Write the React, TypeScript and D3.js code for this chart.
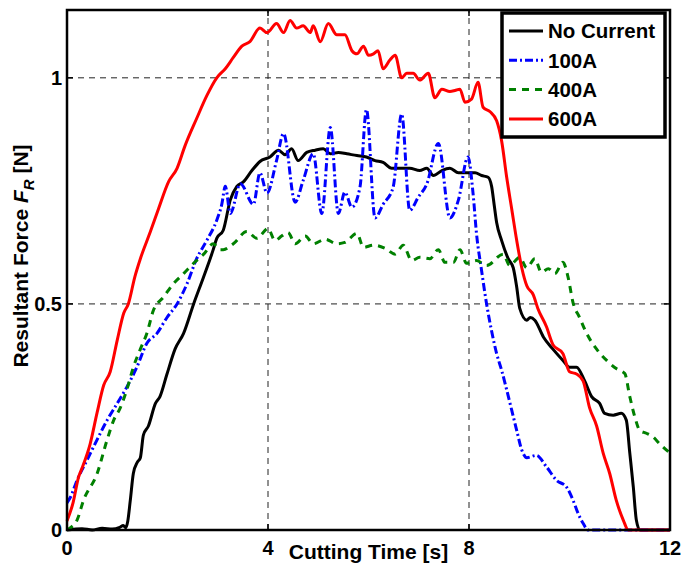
import React, { useEffect, useRef } from 'react';
import * as d3 from 'd3';

// data: [time (s), force (N)]
const noCurrent: [number, number][] = [
  [0, 0], [0.3, 0.003], [0.5, 0], [0.7, 0.004], [0.9, 0.002], [1.05, 0.006], [1.12, 0.01], [1.17, 0.005],
  [1.21, 0.02], [1.26, 0.066], [1.32, 0.125], [1.4, 0.15], [1.46, 0.16], [1.52, 0.21], [1.62, 0.23],
  [1.76, 0.28], [1.85, 0.295], [1.99, 0.345], [2.15, 0.4], [2.32, 0.435], [2.52, 0.5], [2.72, 0.56],
  [2.91, 0.62], [2.98, 0.645], [3.11, 0.663], [3.25, 0.73], [3.38, 0.76], [3.51, 0.77], [3.68, 0.795],
  [3.84, 0.815], [4.04, 0.825], [4.21, 0.84], [4.34, 0.83], [4.47, 0.843], [4.6, 0.817], [4.77, 0.835],
  [4.94, 0.84], [5.1, 0.843], [5.24, 0.832], [5.4, 0.835], [5.57, 0.832], [5.77, 0.828], [5.96, 0.825],
  [6.13, 0.817], [6.29, 0.813], [6.46, 0.8], [6.63, 0.8], [6.82, 0.8], [7.02, 0.795], [7.16, 0.8],
  [7.29, 0.784], [7.46, 0.795], [7.62, 0.8], [7.79, 0.79], [7.95, 0.79], [8.12, 0.79], [8.25, 0.784],
  [8.38, 0.78], [8.45, 0.76], [8.5, 0.72], [8.55, 0.68], [8.65, 0.64], [8.78, 0.6], [8.88, 0.58],
  [8.95, 0.537], [9.01, 0.49], [9.15, 0.464], [9.22, 0.47], [9.31, 0.464], [9.48, 0.427], [9.67, 0.4],
  [9.87, 0.375], [10.0, 0.36], [10.14, 0.36], [10.3, 0.33], [10.44, 0.295], [10.6, 0.28], [10.7, 0.258],
  [10.87, 0.254], [11.03, 0.258], [11.13, 0.243], [11.2, 0.17], [11.27, 0.095], [11.33, 0.022],
  [11.4, 0], [12, 0],
];

const amp100: [number, number][] = [
  [0, 0.06], [0.07, 0.073], [0.2, 0.11], [0.4, 0.155], [0.6, 0.2], [0.8, 0.243], [1.0, 0.28],
  [1.19, 0.316], [1.39, 0.36], [1.59, 0.413], [1.79, 0.435], [1.99, 0.47], [2.19, 0.5], [2.39, 0.545],
  [2.58, 0.6], [2.78, 0.64], [2.98, 0.685], [3.08, 0.72], [3.15, 0.76], [3.25, 0.7], [3.45, 0.766],
  [3.71, 0.72], [3.84, 0.79], [3.98, 0.745], [4.17, 0.817], [4.31, 0.877], [4.54, 0.725], [4.7, 0.773],
  [4.9, 0.832], [5.07, 0.7], [5.24, 0.89], [5.4, 0.7], [5.53, 0.747], [5.67, 0.714], [5.83, 0.758],
  [5.96, 0.93], [6.13, 0.69], [6.29, 0.72], [6.49, 0.758], [6.66, 0.92], [6.82, 0.707], [6.99, 0.736],
  [7.16, 0.765], [7.39, 0.855], [7.62, 0.69], [7.79, 0.73], [7.98, 0.825], [8.08, 0.745], [8.15, 0.655],
  [8.25, 0.574], [8.35, 0.5], [8.45, 0.44], [8.55, 0.39], [8.65, 0.353], [8.75, 0.31], [8.85, 0.265],
  [8.95, 0.22], [9.05, 0.177], [9.15, 0.16], [9.34, 0.165], [9.54, 0.14], [9.74, 0.11], [9.94, 0.095],
  [10.07, 0.066], [10.17, 0.037], [10.27, 0.015], [10.37, 0], [12, 0],
];

const amp400: [number, number][] = [
  [0, 0], [0.07, 0.005], [0.2, 0.022], [0.33, 0.066], [0.6, 0.125], [0.8, 0.2], [0.93, 0.243],
  [1.06, 0.27], [1.19, 0.31], [1.32, 0.36], [1.46, 0.4], [1.59, 0.435], [1.72, 0.486], [1.92, 0.515],
  [2.12, 0.545], [2.32, 0.567], [2.52, 0.59], [2.72, 0.61], [2.91, 0.633], [3.05, 0.62], [3.11, 0.62],
  [3.31, 0.633], [3.58, 0.66], [3.78, 0.645], [4.0, 0.667], [4.14, 0.64], [4.27, 0.65], [4.4, 0.658],
  [4.54, 0.633], [4.74, 0.65], [4.9, 0.633], [5.14, 0.643], [5.37, 0.633], [5.53, 0.636], [5.77, 0.656],
  [5.9, 0.625], [6.1, 0.63], [6.33, 0.623], [6.53, 0.61], [6.69, 0.63], [6.86, 0.596], [7.02, 0.603],
  [7.22, 0.6], [7.39, 0.62], [7.52, 0.592], [7.69, 0.592], [7.82, 0.62], [7.95, 0.59], [8.15, 0.596],
  [8.35, 0.585], [8.68, 0.61], [8.81, 0.585], [9.01, 0.603], [9.15, 0.58], [9.31, 0.6], [9.44, 0.57],
  [9.58, 0.578], [9.71, 0.567], [9.87, 0.592], [9.97, 0.56], [10.07, 0.503], [10.2, 0.47], [10.34, 0.435],
  [10.54, 0.4], [10.74, 0.375], [10.93, 0.357], [11.1, 0.346], [11.2, 0.295], [11.3, 0.25], [11.4, 0.22],
  [11.53, 0.214], [11.66, 0.206], [11.8, 0.19], [12, 0.17],
];

const amp600: [number, number][] = [
  [0, 0.02], [0.12, 0.06], [0.23, 0.117], [0.3, 0.137], [0.46, 0.19], [0.6, 0.26], [0.73, 0.32],
  [0.86, 0.35], [1.0, 0.42], [1.13, 0.48], [1.22, 0.5], [1.35, 0.56], [1.46, 0.6], [1.66, 0.66],
  [1.82, 0.71], [2.02, 0.77], [2.19, 0.8], [2.35, 0.85], [2.58, 0.91], [2.78, 0.96], [2.98, 1.0],
  [3.15, 1.02], [3.31, 1.045], [3.48, 1.07], [3.64, 1.08], [3.84, 1.11], [3.98, 1.1], [4.17, 1.12],
  [4.31, 1.1], [4.44, 1.127], [4.57, 1.11], [4.7, 1.115], [4.84, 1.1], [4.9, 1.115], [5.04, 1.08],
  [5.2, 1.12], [5.37, 1.095], [5.53, 1.095], [5.67, 1.06], [5.77, 1.053], [5.9, 1.07], [6.0, 1.05],
  [6.1, 1.053], [6.19, 1.06], [6.29, 1.02], [6.43, 1.04], [6.53, 1.05], [6.66, 1.0], [6.76, 1.01],
  [6.89, 1.01], [7.02, 0.995], [7.19, 1.01], [7.32, 0.956], [7.46, 0.975], [7.62, 0.97], [7.72, 0.972],
  [7.82, 0.975], [7.92, 0.946], [8.05, 0.953], [8.18, 0.99], [8.28, 0.935], [8.42, 0.925], [8.55, 0.905],
  [8.65, 0.86], [8.75, 0.78], [8.85, 0.71], [8.95, 0.64], [9.05, 0.58], [9.15, 0.54], [9.28, 0.52],
  [9.37, 0.49], [9.54, 0.45], [9.67, 0.41], [9.87, 0.39], [10.0, 0.35], [10.14, 0.345], [10.27, 0.33],
  [10.4, 0.27], [10.54, 0.23], [10.67, 0.17], [10.8, 0.125], [10.93, 0.066], [11.07, 0.022],
  [11.17, 0], [12, 0],
];

const xTicks = [0, 4, 8, 12];
const yTicks = [0, 0.5, 1];
const yTickLabels = ['0', '0.5', '1'];

const seriesNames = ['No Current', '100A', '400A', '600A'];
const seriesColors = ['#000000', '#0000ff', '#008000', '#ff0000'];
const seriesDash = ['none', '8,3,2,3', '7,6', 'none'];

const App = () => {
  const svgRef = useRef<SVGSVGElement>(null);

  useEffect(() => {
    const width = 694;
    const height = 569;
    const margin = { top: 10, right: 24, bottom: 39, left: 67 };
    const font = '"Liberation Sans", Arial, sans-serif';

    const svg = d3.select(svgRef.current).attr('width', width).attr('height', height);
    svg.selectAll('*').remove();

    const x = d3.scaleLinear().domain([0, 12]).range([margin.left, width - margin.right]);
    const y = d3.scaleLinear().domain([0, 1.15]).range([height - margin.bottom, margin.top]);

    const x0 = x(0), x1 = x(12), y0 = y(0), y1 = y(1.15);

    // grid
    const grid = svg.append('g').attr('stroke', '#222').attr('stroke-width', 1).attr('stroke-dasharray', '6,5');
    xTicks.slice(1, -1).forEach(t => {
      grid.append('line').attr('x1', x(t)).attr('x2', x(t)).attr('y1', y0).attr('y2', y1);
    });
    yTicks.slice(1).forEach(t => {
      grid.append('line').attr('x1', x0).attr('x2', x1).attr('y1', y(t)).attr('y2', y(t));
    });

    // lines
    const line = d3.line<[number, number]>()
      .x(d => x(d[0]))
      .y(d => y(d[1]))
      .curve(d3.curveMonotoneX);

    [noCurrent, amp100, amp400, amp600].forEach((data, i) => {
      svg.append('path')
        .datum(data)
        .attr('fill', 'none')
        .attr('stroke', seriesColors[i])
        .attr('stroke-width', 3)
        .attr('stroke-dasharray', seriesDash[i])
        .attr('stroke-linejoin', 'round')
        .attr('d', line);
    });

    // box
    svg.append('rect')
      .attr('x', x0).attr('y', y1)
      .attr('width', x1 - x0).attr('height', y0 - y1)
      .attr('fill', 'none').attr('stroke', '#000').attr('stroke-width', 2.5);

    // ticks
    const ticks = svg.append('g').attr('stroke', '#000').attr('stroke-width', 1.5);
    xTicks.forEach(t => {
      ticks.append('line').attr('x1', x(t)).attr('x2', x(t)).attr('y1', y0).attr('y2', y0 - 6);
      ticks.append('line').attr('x1', x(t)).attr('x2', x(t)).attr('y1', y1).attr('y2', y1 + 6);
    });
    yTicks.forEach(t => {
      ticks.append('line').attr('x1', x0).attr('x2', x0 + 6).attr('y1', y(t)).attr('y2', y(t));
      ticks.append('line').attr('x1', x1).attr('x2', x1 - 6).attr('y1', y(t)).attr('y2', y(t));
    });

    // tick labels
    svg.append('g')
      .selectAll('text')
      .data(xTicks)
      .join('text')
      .attr('x', d => x(d))
      .attr('y', y0 + 25)
      .attr('text-anchor', 'middle')
      .attr('font-family', font)
      .attr('font-weight', 'bold')
      .attr('font-size', 20)
      .text(d => d);

    svg.append('g')
      .selectAll('text')
      .data(yTicks)
      .join('text')
      .attr('x', x0 - 5)
      .attr('y', d => y(d))
      .attr('dy', '0.36em')
      .attr('text-anchor', 'end')
      .attr('font-family', font)
      .attr('font-weight', 'bold')
      .attr('font-size', 20)
      .text((d, i) => yTickLabels[i]);

    // axis titles
    svg.append('text')
      .attr('x', (x0 + x1) / 2)
      .attr('y', y0 + 29)
      .attr('text-anchor', 'middle')
      .attr('font-family', font)
      .attr('font-weight', 'bold')
      .attr('font-size', 21)
      .text('Cutting Time [s]');

    const yt = svg.append('text')
      .attr('transform', `translate(28, 256) rotate(-90)`)
      .attr('text-anchor', 'middle')
      .attr('font-family', font)
      .attr('font-weight', 'bold')
      .attr('font-size', 21);
    yt.append('tspan').text('Resultant Force ');
    yt.append('tspan').attr('font-style', 'italic').text('F');
    yt.append('tspan').attr('font-style', 'italic').attr('font-size', 15).attr('dy', 6).text('R');
    yt.append('tspan').attr('dy', -6).text(' [N]');

    // legend
    const lg = svg.append('g');
    lg.append('rect')
      .attr('x', 502).attr('y', 13).attr('width', 163).attr('height', 124)
      .attr('fill', '#fff').attr('stroke', '#000').attr('stroke-width', 3.5);
    seriesNames.forEach((name, i) => {
      const ry = 31 + i * 29.3;
      lg.append('line')
        .attr('x1', 509).attr('x2', 543).attr('y1', ry).attr('y2', ry)
        .attr('stroke', seriesColors[i]).attr('stroke-width', 3)
        .attr('stroke-dasharray', seriesDash[i]);
      lg.append('text')
        .attr('x', 548).attr('y', ry).attr('dy', '0.36em')
        .attr('font-family', font).attr('font-weight', 'bold').attr('font-size', 20.5)
        .text(name);
    });
  }, []);

  return <svg ref={svgRef} style={{ position: 'absolute', left: 0, top: 0 }}></svg>;
};

export default App;
